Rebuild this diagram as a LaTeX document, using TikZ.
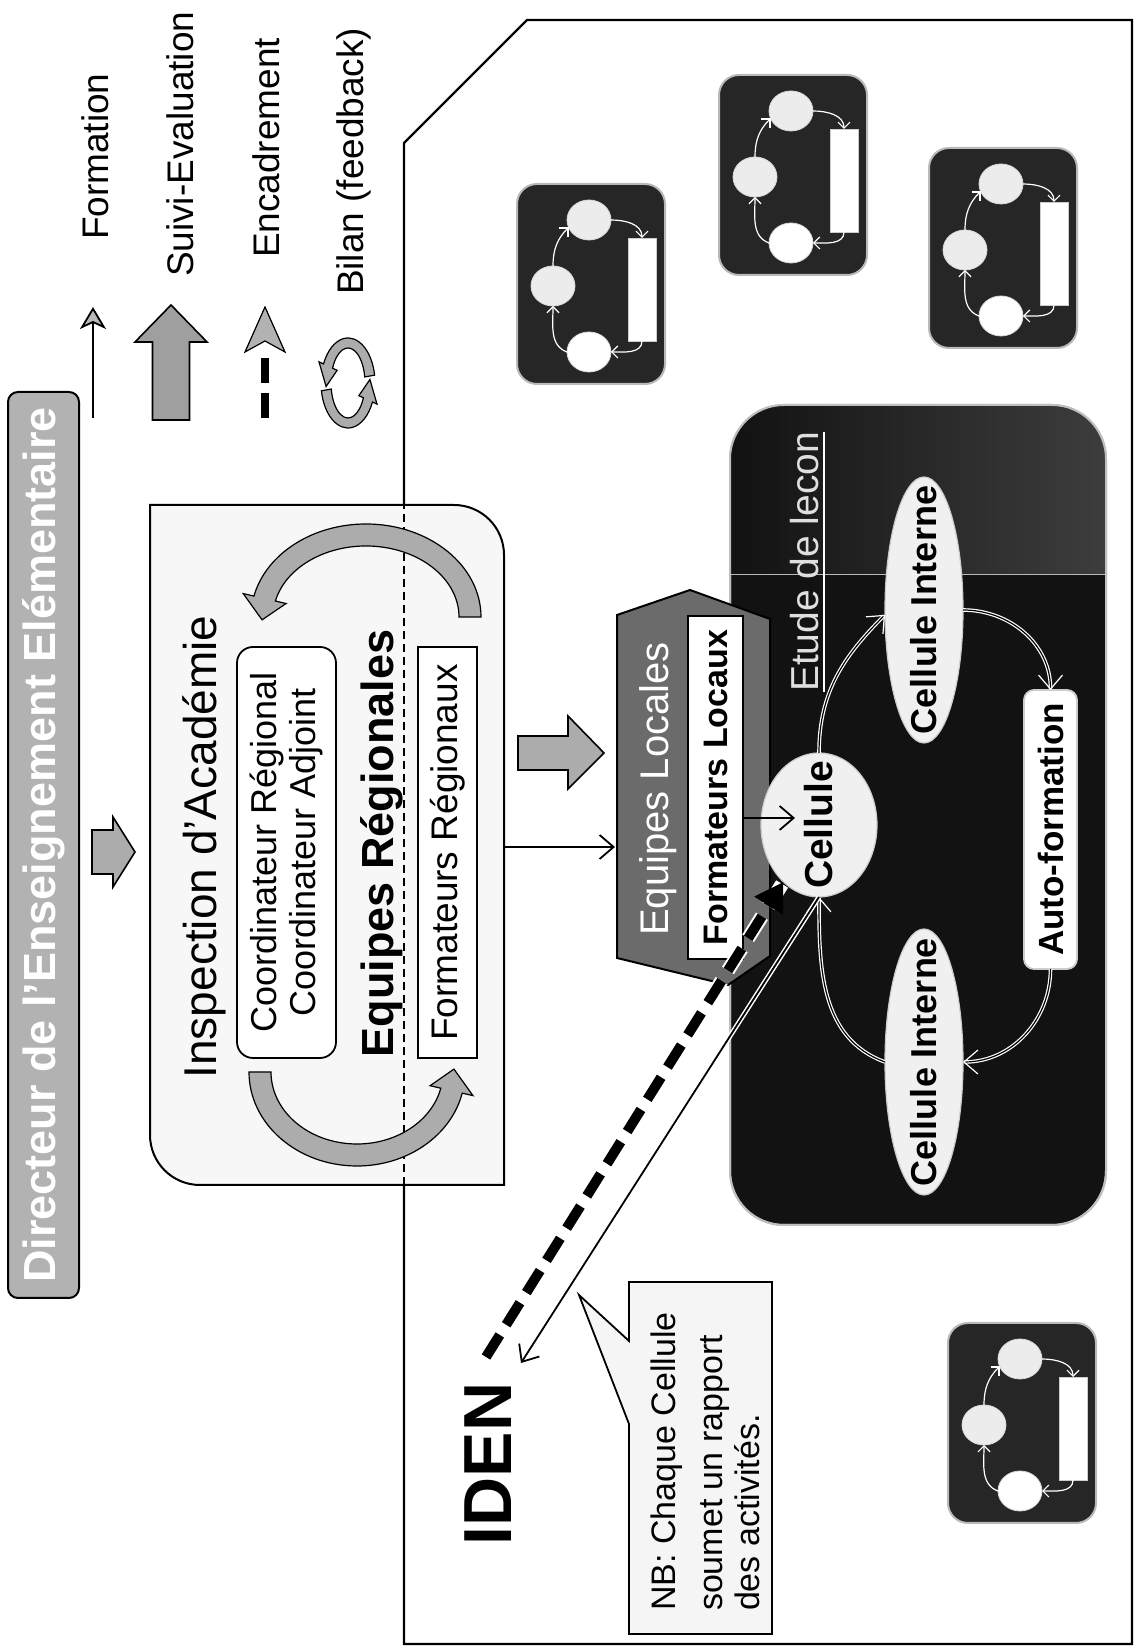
\documentclass[tikz,border=0pt]{standalone}
\usepackage{fontspec}
\setmainfont{Liberation Sans}
\usetikzlibrary{arrows.meta,shapes.geometric,calc}

% curved band arrow along an ellipse: cx cy a b start headbase tip halfwidth headhalfwidth
\newcommand\bandarrow[9]{%
  \filldraw[band] ({#1+(#3+#8)*cos(#5)},{#2+(#4+#8)*sin(#5)})
    arc[start angle=#5, end angle=#6, x radius={#3+#8}, y radius={#4+#8}]
    -- ({#1+(#3+#9)*cos(#6)},{#2+(#4+#9)*sin(#6)})
    -- ({#1+#3*cos(#7)},{#2+#4*sin(#7)})
    -- ({#1+(#3-#9)*cos(#6)},{#2+(#4-#9)*sin(#6)})
    -- ({#1+(#3-#8)*cos(#6)},{#2+(#4-#8)*sin(#6)})
    arc[start angle=#6, end angle=#5, x radius={#3-#8}, y radius={#4-#8}]
    -- cycle;}

% small cell cycle icon: lower-left corner x, y, name prefix
\newcommand\minicell[3]{%
  \begin{scope}[shift={(#1,#2)}]
    \node[minibox] (#3) at (100,74) {};
    \node[minic] (#3a) at (98,112) {};
    \node[minic] (#3b) at (164,76) {};
    \node[minic, fill=white] (#3c) at (32,76) {};
    \node[minir] (#3r) at (94.5,23) {};
    \draw[minia] (#3a.east) to[out=0,in=135] (#3b.110);
    \draw[minia] (#3b.south) to[out=-90,in=0] (#3r.east);
    \draw[minia] (#3r.west) to[out=180,in=-90] (#3c.south);
    \draw[minia] (#3c.north) to[out=70,in=180] (#3a.west);
  \end{scope}}

\begin{document}
\begin{tikzpicture}[x=0.5pt,y=0.5pt,
  every node/.style={inner sep=0pt, outer sep=0pt},
  lg/.style={font=\fontsize{18.5}{22}\selectfont, anchor=base west},
  fat/.style={draw=black, line width=0.8pt, fill=gray!65, line join=miter},
  band/.style={draw=black, line width=0.6pt, fill=gray!65},
  conn/.style={draw=black, line width=0.9pt, -{Straight Barb[length=7pt,width=12pt]}},
  cyc/.style={draw=white, double=black, double distance=0.6pt, line width=0.6pt,
              -{Straight Barb[length=7pt,width=12pt]}},
  ell/.style={ellipse, draw=gray!40, fill=gray!12, line width=0.6pt},
  boxw/.style={draw=black, line width=0.9pt, fill=white},
  minibox/.style={draw=gray!55, line width=1pt, fill=black!85, rounded corners=10pt,
                  minimum width=100pt, minimum height=74pt},
  minic/.style={ellipse, draw=gray!30, fill=gray!15, minimum width=20pt, minimum height=22pt},
  minir/.style={draw=gray!40, fill=white, minimum width=51.5pt, minimum height=14pt},
  minia/.style={draw=white, line width=0.6pt, -{Straight Barb[length=3pt,width=6pt]}},
]
\useasboundingbox (0,0) rectangle (1138,1650);
\fill[white] (0,0) rectangle (1138,1650);

\begin{scope}[shift={(1138,0)}, rotate=90, transform shape]

% outer frame of the local level
\draw[line width=1.2pt] (6,734) -- (1507,734) -- (1630,611) -- (1630,6) -- (6,6) -- cycle;

% title bar and arrow towards the academy
\node[draw=black, line width=1pt, fill=gray!60, rounded corners=5pt,
      minimum width=453pt, minimum height=35.5pt, text=white,
      font=\bfseries\fontsize{22.5}{25}\selectfont] (dir) at (805,1094.5)
      {Directeur de l’Enseignement Elémentaire};
\draw[fat] (776,1046) -- (820,1046) -- (820,1025) -- (833,1025) -- (798,1003)
           -- (763,1025) -- (776,1025) -- cycle;

% legend
\draw[line width=0.9pt, -{Stealth[length=11pt,width=13pt,inset=3pt,fill=gray!55]}]
     (1232,1045) -- (1343,1045);
\node[lg] (lgF) at (1410,1030) {Formation};
\draw[fat, fill=gray!75] (1230,948.5) -- (1308,948.5) -- (1308,931) -- (1345,967)
     -- (1308,1003) -- (1308,985.5) -- (1230,985.5) -- cycle;
\node[lg] (lgS) at (1373,945) {Suivi-Evaluation};
\draw[line width=4pt, dash pattern=on 12.5pt off 5pt] (1232,873) -- (1296,873);
\filldraw[fill=gray!60, line width=0.6pt] (1343,873) -- (1298,853) -- (1309,873)
     -- (1298,893) -- cycle;
\node[lg] (lgE) at (1392,859) {Encadrement};
\bandarrow{1267}{790}{40}{22}{-80}{65}{95}{5}{10}
\bandarrow{1267}{790}{40}{22}{100}{245}{275}{5}{10}
\node[lg] (lgB) at (1355,775) {Bilan (feedback)};

% academy inspection block
\filldraw[fill=gray!6, line width=1pt] (465,634) -- (1095,634)
     arc[start angle=-90,end angle=0,radius=50] -- (1145,988) -- (515,988)
     arc[start angle=90,end angle=180,radius=50] -- cycle;
\draw[line width=0.9pt, dash pattern=on 4pt off 2.5pt] (465,734) -- (1145,734);
\node[anchor=base, font=\fontsize{23}{26}\selectfont] (inspT) at (803,922)
     {Inspection d’Académie};
\node[boxw, rounded corners=8pt, minimum width=205.5pt, minimum height=49.5pt,
      align=center, font=\fontsize{18}{19.5}\selectfont] (coord) at (797.5,851.5)
     {Coordinateur Régional\\Coordinateur Adjoint};
\node[anchor=base, font=\bfseries\fontsize{22.5}{26}\selectfont] (eqR) at (806.5,745)
     {Equipes Régionales};
\node[boxw, minimum width=205.5pt, minimum height=29.5pt,
      font=\fontsize{18.5}{22}\selectfont] (freg) at (797.5,690.5) {Formateurs Régionaux};
\bandarrow{1033}{772}{82}{104}{-90}{77}{92}{11}{22}
\bandarrow{578}{781}{83}{97}{90}{257}{272}{11}{22}

% other cells
\minicell{1266}{473}{mA}
\minicell{1375}{271}{mB}
\minicell{1302}{61}{mC}
\minicell{127}{42}{mD}

% lesson study block
\node[draw=gray!50, line width=1pt, fill=black!93, rounded corners=27pt,
      minimum width=410pt, minimum height=188pt] (etude) at (835,220) {};
\begin{scope}
  \clip[rounded corners=27pt] (425,32) rectangle (1245,408);
  \shade[left color=black!93, right color=black!76] (1075,32) rectangle (1245,408);
  \draw[gray!55, line width=0.5pt] (1075,32) -- (1075,408);
\end{scope}
\draw[gray!50, line width=1pt, rounded corners=27pt] (425,32) rectangle (1245,408);
\node[anchor=base west, text=gray!25, font=\fontsize{19.5}{22}\selectfont] (etT)
     at (958,320) {Etude de lecon};
\draw[white, line width=0.8pt] ([yshift=-3pt]etT.base west) -- ([yshift=-3pt]etT.base east);

% local teams
\filldraw[fill=black!58, draw=black, line width=1pt] (692,521) -- (1035,521) -- (1060,448)
     -- (1031,368) -- (694,368) -- (665,410) -- cycle;
\node[anchor=base, text=white, font=\fontsize{20}{24}\selectfont] (eqL) at (861,470)
     {Equipes Locales};
\node[boxw, minimum width=171.5pt, minimum height=27.5pt,
      font=\bfseries\fontsize{17}{20}\selectfont] (floc) at (862.5,422.5) {Formateurs Locaux};

% cell cycle
\node[ell, minimum width=72pt, minimum height=58pt] (cel) at (825,319) {};
\node[font=\bfseries\fontsize{19.5}{22}\selectfont] (celT) at (cel) {Cellule};
\node[ell, minimum width=133pt, minimum height=39pt] (ciT) at (1040,214) {};
\node[font=\bfseries\fontsize{18}{20}\selectfont] (ciTT) at (ciT) {Cellule Interne};
\node[ell, minimum width=133pt, minimum height=39pt] (ciB) at (588,214) {};
\node[font=\bfseries\fontsize{18}{20}\selectfont] (ciBT) at (ciB) {Cellule Interne};
\node[boxw, draw=gray!40, rounded corners=5pt, minimum width=139.5pt, minimum height=26.5pt,
      font=\bfseries\fontsize{17.5}{20}\selectfont] (auto) at (820.5,87.5) {Auto-formation};
\draw[cyc] (cel.east) to[out=0,in=135] (ciT.97);
\draw[cyc] (ciT.-90) to[out=-90,in=0] (auto.east);
\draw[cyc] (auto.west) to[out=180,in=-90] (ciB.-90);
\draw[cyc] (ciB.90) to[out=70,in=180] (cel.west);

\coordinate (celIn) at (832,343);
\draw[conn] (floc.south -| celIn) -- (celIn);

% links from the academy to the local teams
\draw[fat] (880,620) -- (880,570) -- (861,570) -- (897,534) -- (934,570) -- (914,570)
     -- (914,620) -- cycle;
\coordinate (inspE) at (803,634);
\coordinate (hexN) at (803,523);
\draw[conn] (inspE) -- (hexN);

% IDEN links
\node[anchor=base, font=\bfseries\fontsize{34}{38}\selectfont] (iden) at (186,627) {IDEN};
\coordinate (encA) at (293,652);
\coordinate (idenA) at (287,617);
\draw[white, line width=7pt, dash pattern=on 13pt off 6pt] (encA) -- (cel.148);
\draw[line width=5pt, dash pattern=on 13pt off 6pt, -{Triangle[length=14pt,width=16pt]}]
     (encA) -- (cel.148);
\draw[white, line width=2.4pt] (cel.west) -- (idenA);
\draw[conn] (cel.west) -- (idenA);

% note
\filldraw[fill=gray!8, line width=0.9pt] (16,366) -- (368,366) -- (368,509) -- (309,509)
     -- (355,559) -- (226,509) -- (16,509) -- cycle;
\node[anchor=base west, font=\fontsize{17}{20}\selectfont] (nb1) at (39,463) {NB: Chaque Cellule};
\node[anchor=base west, font=\fontsize{17}{20}\selectfont] (nb2) at (39,416) {soumet un rapport};
\node[anchor=base west, font=\fontsize{17}{20}\selectfont] (nb3) at (39,379) {des activités.};

\end{scope}
\end{tikzpicture}
\end{document}
